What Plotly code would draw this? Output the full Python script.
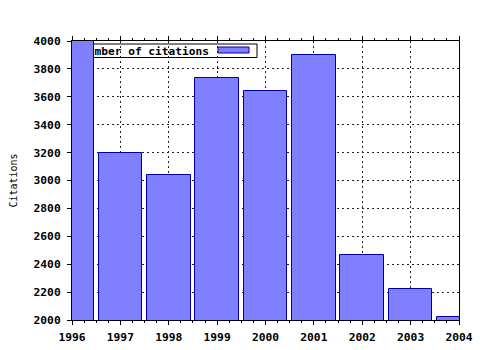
import plotly.graph_objects as go

years = [1996, 1997, 1998, 1999, 2000, 2001, 2002, 2003, 2004]
citations = [4000, 3200, 3042, 3735, 3640, 3900, 2467, 2221, 2019]
series_name = "Number of citations"
y_title = "Citations"

FONT = "DejaVu Sans Mono"
L, R, T, B = 72, 21, 41, 30
W, H = 480, 350
pw, ph = W - L - R, H - T - B

def px_x(px):
    return (px - L) / pw

def px_y(py):
    return (H - B - py) / ph

fig = go.Figure()
fig.add_trace(go.Bar(
    x=years, y=citations, width=0.9, name=series_name,
    marker=dict(color="#8080ff", line=dict(color="#0000a0", width=1)),
    showlegend=False,
))

# key box drawn beneath the bars (gnuplot style)
fig.add_shape(type="rect", xref="paper", yref="paper",
              x0=px_x(76), x1=px_x(257), y0=px_y(57.5), y1=px_y(44),
              layer="between", fillcolor="white",
              line=dict(color="black", width=1),
              label=dict(text=series_name, textposition="middle left", padding=2,
                         font=dict(family=FONT, size=11.2, color="black", weight="bold")))
fig.add_shape(type="rect", xref="paper", yref="paper",
              x0=px_x(218), x1=px_x(249), y0=px_y(53), y1=px_y(47),
              layer="between", fillcolor="#8080ff",
              line=dict(color="#0000a0", width=1))

fig.update_layout(
    width=W, height=H,
    margin=dict(l=L, r=R, t=T, b=B, pad=0, autoexpand=False),
    paper_bgcolor="white", plot_bgcolor="white",
    font=dict(family=FONT, size=11.3, color="black", weight="bold"),
    bargap=0,
)
fig.update_xaxes(
    range=[1996, 2004], tick0=1996, dtick=1, tickformat="d", automargin=False,
    showline=True, linecolor="black", linewidth=1, mirror="ticks",
    ticks="outside", ticklen=4, tickcolor="black", ticklabelstandoff=2,
    showgrid=True, gridcolor="#222", griddash="2px,3px", gridwidth=1,
    minor=dict(dtick=0.25, tick0=1996, ticks="outside", ticklen=2, tickcolor="black", showgrid=False),
    zeroline=False,
)
fig.update_yaxes(
    range=[2000, 4000], tick0=2000, dtick=200, automargin=False,
    showline=True, linecolor="black", linewidth=1, mirror=True,
    ticks="outside", ticklen=4, tickcolor="black", ticklabelstandoff=4,
    showgrid=True, gridcolor="#222", griddash="2px,3px", gridwidth=1,
    zeroline=False,
    title=dict(text=y_title, standoff=14,
               font=dict(family=FONT, size=10, color="black", weight="normal")),
)

fig.write_html("out.html")
